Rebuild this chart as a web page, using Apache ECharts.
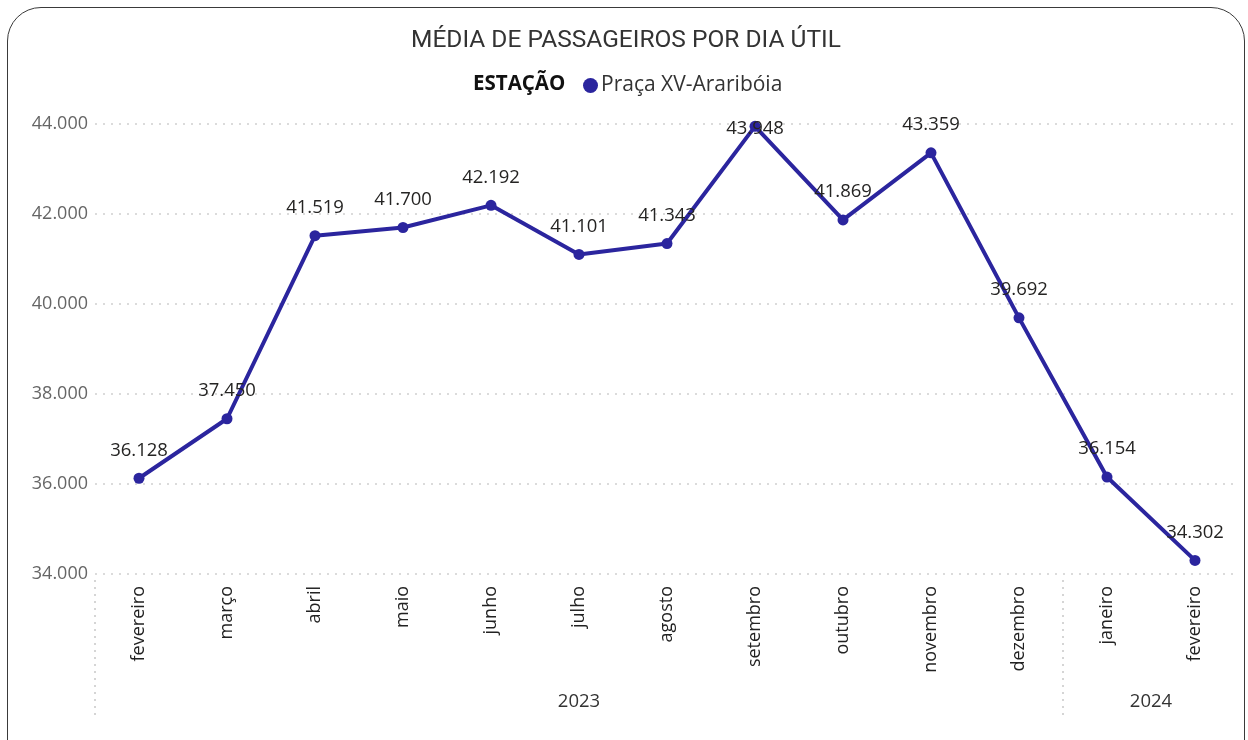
<!doctype html>
<html>
<head>
    <meta charset="utf-8">
    <title>Média de passageiros por dia útil</title>
    <style>
        html, body {
            margin: 0;
            padding: 0;
            width: 1248px;
            height: 740px;
            overflow: hidden;
            background: #fff;
        }
        #frame {
            position: absolute;
            left: 7px;
            top: 7px;
            width: 1236px;
            height: 780px;
            border: 1.5px solid #3a3a3a;
            border-radius: 34px;
        }
        #container {
            position: absolute;
            left: 0;
            top: 0;
            width: 1248px;
            height: 740px;
        }
    </style>
</head>
<body>
<div id="frame"></div>
<div id="container"></div>
<script src="https://cdn.jsdelivr.net/npm/echarts/dist/echarts.min.js"></script>
<script>
    // dados
    var meses = ['fevereiro', 'março', 'abril', 'maio', 'junho', 'julho', 'agosto',
        'setembro', 'outubro', 'novembro', 'dezembro', 'janeiro', 'fevereiro'];
    var anos = ['2023', '2024'];
    var passageiros = [36128, 37450, 41519, 41700, 42192, 41101, 41343,
        43948, 41869, 43359, 39692, 36154, 34302];
    var yTicks = [34000, 36000, 38000, 40000, 42000, 44000];

    function fmt(v) {
        return String(Math.round(v)).replace(/\B(?=(\d{3})+(?!\d))/g, '.');
    }

    var cor = '#2B259E';
    var fonte = '"Open Sans", "Noto Sans", sans-serif';

    var dados = passageiros.map(function (v, i) {
        // o rótulo do ponto mais alto fica sobre o marcador
        if (i === 7) {
            return { value: v, label: { position: 'inside', offset: [0, 2] } };
        }
        return v;
    });

    var myChart = echarts.init(document.getElementById('container'));
    var option = {
        animation: false,
        textStyle: { fontFamily: fonte },
        title: [
            {
                text: 'MÉDIA DE PASSAGEIROS POR DIA ÚTIL',
                left: 406,
                top: 23,
                textStyle: { fontFamily: 'Roboto, sans-serif', fontSize: 24.5, fontWeight: 'normal', color: '#333' }
            },
            {
                text: 'ESTAÇÃO',
                left: 468,
                top: 69,
                textStyle: { fontFamily: fonte, fontSize: 20.5, fontWeight: 'bold', color: '#111' }
            }
        ],
        legend: {
            left: 578,
            top: 70,
            icon: 'circle',
            itemWidth: 15,
            itemHeight: 15,
            itemGap: 4,
            textStyle: { fontFamily: fonte, fontSize: 21, color: '#333', padding: [0, 0, 0, -2] },
            data: ['Praça XV-Araribóia']
        },
        grid: { left: 95, right: 9, top: 124, bottom: 166 },
        xAxis: [
            {
                type: 'category',
                data: meses,
                boundaryGap: true,
                axisLine: { show: false },
                axisTick: { show: false },
                axisLabel: {
                    rotate: 90,
                    margin: 12,
                    fontSize: 18,
                    color: '#222',
                    fontFamily: fonte
                }
            },
            {
                type: 'value',
                min: 0,
                max: meses.length,
                position: 'bottom',
                offset: 6,
                axisLine: { show: false },
                splitLine: { show: false },
                axisTick: {
                    customValues: [0, 11],
                    length: 136,
                    lineStyle: { color: '#c8c8c8', type: [2, 5], width: 1.5 }
                },
                axisLabel: {
                    customValues: [5.5, 12],
                    margin: 112,
                    fontSize: 18.5,
                    color: '#333',
                    fontFamily: fonte,
                    formatter: function (v) { return v < 11 ? anos[0] : anos[1]; }
                }
            }
        ],
        yAxis: {
            type: 'value',
            min: yTicks[0],
            max: yTicks[yTicks.length - 1],
            interval: 2000,
            axisLine: { show: false },
            axisTick: { show: false },
            axisLabel: {
                margin: 7,
                fontSize: 18,
                color: '#666',
                fontFamily: fonte,
                formatter: fmt
            },
            splitLine: {
                lineStyle: { color: '#cfcfcf', type: [2, 6], width: 1.5 }
            }
        },
        series: [
            {
                name: 'Praça XV-Araribóia',
                type: 'line',
                xAxisIndex: 0,
                data: dados,
                color: cor,
                symbol: 'circle',
                symbolSize: 11,
                lineStyle: { width: 4, color: cor },
                itemStyle: { color: cor },
                label: {
                    show: true,
                    position: 'top',
                    distance: 13,
                    fontSize: 18.5,
                    color: '#252423',
                    fontFamily: fonte,
                    formatter: function (p) { return fmt(p.value); }
                }
            }
        ]
    };
    myChart.setOption(option);
</script>
</body>
</html>
